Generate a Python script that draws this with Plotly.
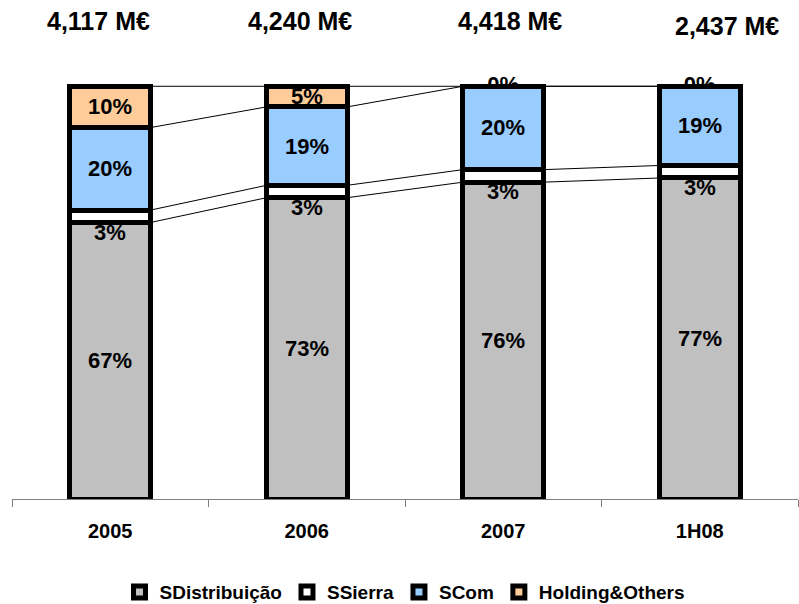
import numpy as np
import plotly.graph_objects as go

# Revenue mix by business unit (share of total, %)
categories = ["2005", "2006", "2007", "1H08"]
sdistribuicao = [67, 73, 76, 77]
ssierra = [3, 3, 3, 3]
scom = [20, 19, 20, 19]
holding_others = [10, 5, 0, 0]
totals_meur = [4117, 4240, 4418, 2437]

series_names = ["SDistribuição", "SSierra", "SCom", "Holding&Others"]
series_colors = ["#C0C0C0", "#FFFFFF", "#99CCFF", "#FFCC99"]

# label placement tweaks (pixels)
label_yshift = [0, -16, 0, 0]
total_xshift = [-12, -7, 7, 27]
total_y = [1.052, 1.052, 1.052, 1.041]

FONT = "Liberation Sans, Arial, sans-serif"
BAR_W = 0.41

vals = np.array([sdistribuicao, ssierra, scom, holding_others], dtype=float)
shares = vals / vals.sum(axis=0) * 100.0
tops = np.cumsum(shares, axis=0)
centers = tops - shares / 2.0
xpos = np.arange(len(categories))

fig = go.Figure()

# zero-size segment labels sit underneath the bar outlines
for j, name in enumerate(series_names):
    idx = [i for i in range(len(categories)) if vals[j, i] == 0]
    if idx:
        fig.add_trace(go.Scatter(
            x=[categories[i] for i in idx],
            y=[tops[j, i] for i in idx],
            mode="text",
            text=[f"{int(vals[j, i])}%" for i in idx],
            textposition="middle center",
            textfont=dict(family=FONT, size=22, color="black", weight="bold"),
            showlegend=False, hoverinfo="skip",
            xaxis="x", yaxis="y",
        ))

# stacked 100% bars
for j, name in enumerate(series_names):
    fig.add_trace(go.Bar(
        x=xpos, y=vals[j], name=name, width=BAR_W,
        marker=dict(color=series_colors[j], line=dict(color="black", width=5)),
        xaxis="x2", yaxis="y2",
    ))

# series connector lines between adjacent bars
cx, cy = [], []
for j in range(len(series_names)):
    for i in range(len(categories) - 1):
        cx += [xpos[i] + BAR_W / 2, xpos[i + 1] - BAR_W / 2, None]
        cy += [tops[j, i], tops[j, i + 1], None]
fig.add_trace(go.Scatter(
    x=cx, y=cy, mode="lines", line=dict(color="black", width=1),
    showlegend=False, hoverinfo="skip", xaxis="x2", yaxis="y2",
))

annotations = []
for j in range(len(series_names)):
    for i in range(len(categories)):
        if vals[j, i] == 0:
            continue
        annotations.append(dict(
            x=xpos[i], y=centers[j, i], xref="x2", yref="y2",
            text=f"{int(vals[j, i])}%", showarrow=False, yshift=label_yshift[j],
            font=dict(family=FONT, size=22, color="black", weight="bold"),
        ))
for i, t in enumerate(totals_meur):
    annotations.append(dict(
        x=xpos[i], y=total_y[i], xref="x2", yref="paper",
        text=f"{t:,} M€", showarrow=False, xshift=total_xshift[i],
        yanchor="middle",
        font=dict(family=FONT, size=25, color="black", weight="bold"),
    ))

fig.update_layout(
    width=799, height=604,
    margin=dict(l=12, r=1, t=45, b=105, autoexpand=False),
    paper_bgcolor="white", plot_bgcolor="white",
    barmode="stack", barnorm="percent",
    annotations=annotations,
    xaxis=dict(
        type="category", categoryorder="array", categoryarray=categories,
        range=[-0.5, len(categories) - 0.5],
        showline=True, linecolor="#808080", linewidth=1,
        ticks="outside", ticklen=7, tickcolor="#808080", tickwidth=1,
        tickson="boundaries", showgrid=False, zeroline=False,
        ticklabelstandoff=14,
        tickfont=dict(family=FONT, size=20, color="black", weight="bold"),
    ),
    yaxis=dict(range=[0, 110], visible=False),
    xaxis2=dict(overlaying="x", range=[-0.5, len(categories) - 0.5], visible=False),
    yaxis2=dict(overlaying="y", range=[0, 110], visible=False),
    legend=dict(
        orientation="h", x=0.5, xanchor="center", y=-0.205, yanchor="middle",
        traceorder="normal",
        font=dict(family=FONT, size=19, color="black", weight="bold"),
    ),
    showlegend=True,
)

fig.write_html("out.html")
